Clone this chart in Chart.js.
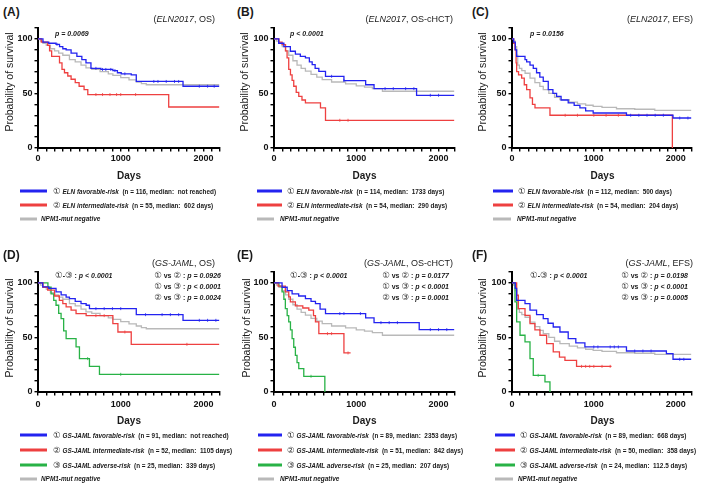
<!DOCTYPE html>
<html>
<head>
<meta charset="utf-8">
<script src="https://cdn.jsdelivr.net/npm/chart.js@4.4.1/dist/chart.umd.min.js"></script>
<style>
  body { margin: 0; background: #fff; width: 709px; height: 490px; position: relative; overflow: hidden;
         font-family: "Liberation Sans", Arial, sans-serif; color: #1a1a1a; }
  canvas { position: absolute; }
  .t { position: absolute; white-space: nowrap; line-height: 1; transform: translateY(-50%); }
  .lab { font-weight: bold; font-size: 12px; }
  .ttl { font-size: 9px; }
  .pv { font-weight: bold; font-size: 7px; }
  .pv i { font-style: italic; }
  .leg { font-weight: bold; font-size: 6.4px; }
  .c { font-weight: normal; font-style: normal; font-family: "DejaVu Sans", sans-serif; font-size: 8.5px; color: #333; }
  .sw { position: absolute; height: 3px; transform: translateY(-50%); }
  .ytl { position: absolute; font-size: 10.5px; white-space: nowrap; transform: translate(-50%, -50%) rotate(-90deg); }
  .xtl { position: absolute; font-size: 10px; font-weight: bold; transform: translate(-50%, -50%); }
</style>
</head>
<body>
<canvas id="cA" width="230" height="170" style="left:0px;top:20px"></canvas>
<canvas id="cB" width="230" height="170" style="left:235px;top:20px"></canvas>
<canvas id="cC" width="230" height="170" style="left:470px;top:20px"></canvas>
<canvas id="cD" width="230" height="170" style="left:0px;top:264px"></canvas>
<canvas id="cE" width="230" height="170" style="left:235px;top:264px"></canvas>
<canvas id="cF" width="230" height="170" style="left:470px;top:264px"></canvas>
<script>
"use strict";

// Kaplan-Meier steps: days (t) and survival % (s); censor days (c)
const grayOsT = [0, 30, 60, 100, 150, 200, 250, 300, 380, 450, 520, 580, 650, 750, 850, 905, 1000, 1100, 1188, 1250, 1309, 2190];
const grayOsS = [100, 98, 96, 94, 91, 89, 87, 85, 81, 79, 76, 73.5, 72, 70, 68, 66.5, 64.5, 62.5, 60.5, 59, 58, 58];
const grayHctT = [0, 30, 60, 100, 140, 179, 230, 280, 330, 382, 450, 520, 586, 700, 870, 1000, 1100, 1196, 1318, 2190];
const grayHctS = [100, 98, 96, 93, 89, 85, 80, 76, 73, 70.5, 67.5, 65, 62.7, 60.5, 58.7, 57, 55.8, 54.4, 52, 52];
const grayEfsT = [0, 20, 40, 57, 70, 90, 120, 160, 220, 280, 340, 382, 450, 520, 586, 700, 800, 900, 992, 1100, 1277, 1500, 1745, 2190];
const grayEfsS = [100, 98, 93, 85, 76, 73, 71, 68.5, 64, 60, 56.5, 53.5, 50, 46.5, 44.4, 42, 40.5, 39.2, 38.2, 37.2, 36, 35.5, 34.5, 34.5];

const aFavT = [0, 60, 130, 218, 260, 300, 340, 400, 470, 530, 580, 640, 760, 905, 960, 1006, 1127, 1188, 1753, 2190];
const aFavS = [100, 97, 96, 95, 93, 91, 90, 87, 84, 81, 78, 73, 72, 71, 69, 68, 67, 61, 56.6, 56.6];
const aFavC = [230, 700, 780, 820, 880, 930, 1050, 1400, 1450, 1550, 1650, 1700, 1950, 2050, 2130];
const aIntT = [0, 40, 117, 140, 165, 260, 290, 320, 360, 400, 450, 497, 557, 602, 1580, 2190];
const aIntS = [100, 97, 94, 89, 84, 78, 72, 69, 66, 63, 60, 56.6, 53.5, 49, 37.6, 37.6];
const aIntC = [700, 780, 870, 950, 1000, 1180];

const bFavT = [0, 57, 120, 199, 260, 320, 382, 430, 464, 500, 545, 626, 850, 1114, 1216, 1733, 2190];
const bFavS = [100, 96, 93, 88.7, 86, 84, 82.6, 79, 76.4, 73, 70.3, 65.7, 61.8, 58, 54.4, 48.3, 48.3];
const bFavC = [700, 850, 1350, 1450, 1600, 1700, 1900, 2000];
const bIntT = [0, 60, 98, 140, 159, 179, 200, 220, 240, 270, 301, 340, 382, 565, 626, 2190];
const bIntS = [100, 97, 94.8, 89, 82.6, 72, 67, 62, 56.6, 51, 47.4, 44, 41.3, 36.7, 25.4, 25.4];
const bIntC = [800, 900];

const cFavT = [0, 20, 40, 57, 159, 179, 220, 260, 300, 340, 382, 443, 500, 545, 600, 687, 760, 830, 900, 992, 1399, 1968, 2190];
const cFavS = [100, 97, 90, 84, 81, 79, 76, 73, 69, 65, 61, 53.5, 50, 47.4, 44, 41.3, 39, 36.7, 34, 32.1, 30, 27.5, 27.5];
const cFavC = [1450, 1550, 1650, 1750, 1850, 2050, 2150];
const cIntT = [0, 20, 37, 50, 57, 80, 118, 150, 179, 220, 250, 281, 464, 1960, 1960];
const cIntS = [100, 96, 90, 78, 70, 67, 64, 58, 53.5, 45.9, 40, 36.7, 30, 30, 0];
const cIntC = [650, 800, 1000, 1150, 1300];

const dFavT = [0, 57, 130, 218, 280, 340, 380, 450, 520, 582, 622, 1188, 1753, 2190];
const dFavS = [100, 96.3, 95, 91.7, 89, 87, 85.6, 83, 81, 79.5, 76.4, 70.9, 65.7, 65.7];
const dFavC = [700, 800, 900, 1000, 1300, 1500, 1600, 1700, 1950, 2050, 2150];
const dIntT = [0, 60, 117, 200, 258, 300, 340, 400, 460, 582, 905, 966, 1127, 2190];
const dIntS = [100, 96, 93.3, 88, 84, 81, 78, 75, 71.9, 70, 62.7, 55, 43.7, 43.7];
const dIntC = [700, 800, 1050, 1800];
const dAdvT = [0, 120, 158, 190, 218, 250, 279, 310, 340, 460, 501, 622, 743, 2190];
const dAdvS = [100, 96, 90, 84, 79.5, 72, 67.3, 56, 48.9, 41.3, 30.6, 23.5, 16.2, 16.2];
const dAdvC = [600, 1000];

const eFavT = [0, 98, 160, 220, 300, 382, 450, 504, 560, 626, 1114, 1216, 1765, 2190];
const eFavS = [100, 96, 93, 90, 88, 85.6, 83, 81, 76, 71.9, 67.9, 63.6, 57.2, 57.2];
const eFavC = [800, 850, 1050, 1300, 1400, 1500, 1900, 2000, 2100];
const eIntT = [0, 50, 138, 179, 199, 260, 350, 423, 480, 504, 545, 850, 931];
const eIntS = [100, 97, 91.7, 87.2, 82.6, 79, 77, 75, 70, 64.2, 53.5, 35.8, 35.8];
const eIntC = [650, 700, 900];
const eAdvT = [0, 60, 98, 120, 138, 160, 179, 200, 220, 240, 260, 280, 301, 362, 618];
const eAdvS = [100, 97, 91.7, 85, 76.4, 70, 64.2, 57, 48.9, 41, 33.6, 27, 21.4, 14.4, 0];
const eAdvC = [450];

const fFavT = [0, 40, 57, 159, 220, 300, 382, 440, 504, 586, 687, 780, 891, 1399, 1887, 1968, 2190];
const fFavS = [100, 95, 84, 81, 75, 71, 67.3, 63, 59.6, 55, 48.9, 45, 41.3, 37.6, 35.2, 30, 30];
const fFavC = [1000, 1050, 1200, 1250, 1300, 1500, 1600, 1700, 2050, 2100];
const fIntT = [0, 57, 77, 159, 220, 280, 342, 423, 504, 580, 647, 789, 1216];
const fIntS = [100, 88.7, 76.4, 70.3, 62.7, 57, 52, 44.3, 36.7, 32, 29, 23.5, 23.5];
const fIntC = [850, 900, 950, 1000, 1100, 1200];
const fAdvT = [0, 37, 57, 98, 159, 220, 260, 403, 464];
const fAdvS = [100, 82.6, 64.2, 52, 45.9, 30.6, 15.3, 9.2, 0];
const fAdvC = [320];

const BLUE = "rgb(35,35,240)";
const RED = "rgb(238,64,64)";
const GREEN = "rgb(40,178,70)";
const GRAY = "rgb(185,185,185)";

function curve(t, s, color) {
  return {
    data: t.map((d, i) => ({ x: d, y: s[i] })),
    borderColor: color, borderWidth: 1.3, pointRadius: 0, stepped: true, fill: false,
  };
}

function kmAt(t, s, day) {
  let v = s[0];
  for (let i = 0; i < t.length; i++) if (t[i] <= day) v = s[i];
  return v;
}

function censor(t, s, c, color) {
  return {
    data: c.map((d) => ({ x: d, y: kmAt(t, s, d) })),
    showLine: false, borderColor: color, pointStyle: "line", pointRotation: 90,
    pointRadius: 1.5, pointBorderWidth: 0.8, pointBorderColor: color,
  };
}

function makeChart(id, yWidth, padR, tickPad, datasets) {
  new Chart(document.getElementById(id), {
    type: "line",
    data: { datasets: datasets },
    options: {
      responsive: false,
      animation: false,
      layout: { padding: { left: 0, right: padR, top: 8, bottom: 0 } },
      plugins: { legend: { display: false }, tooltip: { enabled: false } },
      scales: {
        x: {
          type: "linear", min: 0, max: 2200,
          afterFit: (sc) => { sc.height = 42; },
          grid: { drawOnChartArea: false, tickLength: 3.5, color: "#000", lineWidth: 1.4 },
          border: { color: "#000", width: 2 },
          ticks: {
            stepSize: 100, autoSkip: false, maxRotation: 0, padding: tickPad, color: "#111",
            font: { size: 9, weight: "bold" },
            callback: (v) => (v % 1000 === 0 ? v : ""),
          },
        },
        y: {
          min: 0, max: 110,
          afterFit: (sc) => { sc.width = yWidth; },
          grid: { drawOnChartArea: false, tickLength: 3.5, color: "#000", lineWidth: 1.4 },
          border: { color: "#000", width: 2 },
          ticks: {
            stepSize: 10, autoSkip: false, padding: 2, color: "#111",
            font: { size: 9, weight: "bold" },
            callback: (v) => (v % 50 === 0 && v <= 100 ? v : ""),
          },
        },
      },
    },
  });
}

Chart.defaults.font.family = '"Liberation Sans", Arial, sans-serif';

makeChart("cA", 38, 10, 2, [
  curve(aFavT, aFavS, BLUE), censor(aFavT, aFavS, aFavC, BLUE),
  curve(aIntT, aIntS, RED), censor(aIntT, aIntS, aIntC, RED),
  curve(grayOsT, grayOsS, GRAY),
]);
makeChart("cB", 39, 10, 2, [
  curve(bFavT, bFavS, BLUE), censor(bFavT, bFavS, bFavC, BLUE),
  curve(bIntT, bIntS, RED), censor(bIntT, bIntS, bIntC, RED),
  curve(grayHctT, grayHctS, GRAY),
]);
makeChart("cC", 42, 8, 2, [
  curve(cFavT, cFavS, BLUE), censor(cFavT, cFavS, cFavC, BLUE),
  curve(cIntT, cIntS, RED), censor(cIntT, cIntS, cIntC, RED),
  curve(grayEfsT, grayEfsS, GRAY),
]);
makeChart("cD", 38, 10, 4, [
  curve(dFavT, dFavS, BLUE), censor(dFavT, dFavS, dFavC, BLUE),
  curve(dIntT, dIntS, RED), censor(dIntT, dIntS, dIntC, RED),
  curve(dAdvT, dAdvS, GREEN), censor(dAdvT, dAdvS, dAdvC, GREEN),
  curve(grayOsT, grayOsS, GRAY),
]);
makeChart("cE", 39, 10, 4, [
  curve(eFavT, eFavS, BLUE), censor(eFavT, eFavS, eFavC, BLUE),
  curve(eIntT, eIntS, RED), censor(eIntT, eIntS, eIntC, RED),
  curve(eAdvT, eAdvS, GREEN), censor(eAdvT, eAdvS, eAdvC, GREEN),
  curve(grayHctT, grayHctS, GRAY),
]);
makeChart("cF", 42, 8, 4, [
  curve(fFavT, fFavS, BLUE), censor(fFavT, fFavS, fFavC, BLUE),
  curve(fIntT, fIntS, RED), censor(fIntT, fIntS, fIntC, RED),
  curve(fAdvT, fAdvS, GREEN), censor(fAdvT, fAdvS, fAdvC, GREEN),
  curve(grayEfsT, grayEfsS, GRAY),
]);

// ---- text: panel letters, titles, p values, axis titles, legends ----
function txt(cls, html, x, y, alignRight) {
  const d = document.createElement("div");
  d.className = "t " + cls;
  d.innerHTML = html;
  if (alignRight) d.style.right = (709 - x) + "px"; else d.style.left = x + "px";
  d.style.top = y + "px";
  document.body.appendChild(d);
}
function swatch(color, x1, x2, y) {
  const d = document.createElement("div");
  d.className = "sw";
  d.style.left = x1 + "px"; d.style.width = (x2 - x1) + "px"; d.style.top = y + "px";
  d.style.background = color;
  document.body.appendChild(d);
}
function axisTitles(yx, yy, xx, xy) {
  const a = document.createElement("div");
  a.className = "ytl"; a.textContent = "Probability of survival";
  a.style.left = yx + "px"; a.style.top = yy + "px";
  document.body.appendChild(a);
  const b = document.createElement("div");
  b.className = "xtl"; b.textContent = "Days";
  b.style.left = xx + "px"; b.style.top = xy + "px";
  document.body.appendChild(b);
}

const c1 = '<span class="c">①</span>', c2 = '<span class="c">②</span>', c3 = '<span class="c">③</span>';
const npm = "<i>NPM1-mut negative</i>";

// top row
txt("lab", "(A)", 3, 12); txt("lab", "(B)", 237, 12); txt("lab", "(C)", 472, 12);
txt("ttl", "(<i>ELN2017</i>, OS)", 215, 19, true);
txt("ttl", "(<i>ELN2017</i>, OS-cHCT)", 453, 19, true);
txt("ttl", "(<i>ELN2017</i>, EFS)", 693, 19, true);
txt("pv", "<i>p = 0.0069</i>", 55, 33);
txt("pv", "<i>p &lt; 0.0001</i>", 290, 33);
txt("pv", "<i>p = 0.0156</i>", 530, 33);
axisTitles(8.5, 81.5, 129, 175);
axisTitles(244, 81.5, 364.5, 175);
axisTitles(481.5, 81.5, 602.5, 175);

const topLeg = [
  [20, 47, 37, 53, 41, [
    c1 + " <i>ELN favorable-risk</i>&nbsp; (n = 116, median:&nbsp; not reached)",
    c2 + " <i>ELN intermediate-risk</i>&nbsp; (n = 55, median:&nbsp; 602 days)"]],
  [257, 282, 274, 287, 280, [
    c1 + " <i>ELN favorable-risk</i>&nbsp; (n = 114, median:&nbsp; 1733 days)",
    c2 + " <i>ELN intermediate-risk</i>&nbsp; (n = 54, median:&nbsp; 290 days)"]],
  [493, 513, 511, 518, 517, [
    c1 + " <i>ELN favorable-risk</i>&nbsp; (n = 112, median:&nbsp; 500 days)",
    c2 + " <i>ELN intermediate-risk</i>&nbsp; (n = 54, median:&nbsp; 204 days)"]],
];
topLeg.forEach(([x1, x2, gx2, tx, gtx, rows]) => {
  swatch(BLUE, x1, x2, 191); txt("leg", rows[0], tx, 191);
  swatch(RED, x1, x2, 205); txt("leg", rows[1], tx, 205);
  swatch(GRAY, x1, gx2, 219); txt("leg", npm, gtx, 219);
});

// bottom row
txt("lab", "(D)", 3, 255); txt("lab", "(E)", 237, 255); txt("lab", "(F)", 472, 255);
txt("ttl", "(<i>GS-JAML</i>, OS)", 215, 263, true);
txt("ttl", "(<i>GS-JAML</i>, OS-cHCT)", 453, 263, true);
txt("ttl", "(<i>GS-JAML</i>, EFS)", 693, 263, true);
const all = c1 + "-" + c3 + " : <i>p &lt; 0.0001</i>";
txt("pv", all, 55, 275); txt("pv", all, 290, 275); txt("pv", all, 530, 275);
const pairs = [
  [221, ["0.0926", "&lt; 0.0001", "0.0024"]],
  [449, ["0.0177", "&lt; 0.0001", "0.0001"]],
  [688, ["0.0198", "&lt; 0.0001", "0.0005"]],
];
pairs.forEach(([xr, pv]) => {
  const fmt = (v) => (v.startsWith("&lt;") ? "<i>p " + v + "</i>" : "<i>p = " + v + "</i>");
  txt("pv", c1 + " vs " + c2 + " : " + fmt(pv[0]), xr, 275, true);
  txt("pv", c1 + " vs " + c3 + " : " + fmt(pv[1]), xr, 286, true);
  txt("pv", c2 + " vs " + c3 + " : " + fmt(pv[2]), xr, 297, true);
});
axisTitles(8.5, 327.5, 129, 420);
axisTitles(245.5, 327.5, 364.5, 420);
axisTitles(482, 327.5, 602.5, 420);

const botLeg = [
  [20, 47, 37, 53, 41, [
    c1 + " <i>GS-JAML favorable-risk</i>&nbsp; (n = 91, median:&nbsp; not reached)",
    c2 + " <i>GS-JAML intermediate-risk</i>&nbsp; (n = 52, median:&nbsp; 1105 days)",
    c3 + " <i>GS-JAML adverse-risk</i>&nbsp; (n = 25, median:&nbsp; 339 days)"]],
  [258, 282, 274, 287, 280, [
    c1 + " <i>GS-JAML favorable-risk</i>&nbsp; (n = 89, median:&nbsp; 2353 days)",
    c2 + " <i>GS-JAML intermediate-risk</i>&nbsp; (n = 51, median:&nbsp; 842 days)",
    c3 + " <i>GS-JAML adverse-risk</i>&nbsp; (n = 25, median:&nbsp; 207 days)"]],
  [495, 515, 513, 520, 518, [
    c1 + " <i>GS-JAML favorable-risk</i>&nbsp; (n = 89, median:&nbsp; 668 days)",
    c2 + " <i>GS-JAML intermediate-risk</i>&nbsp; (n = 50, median:&nbsp; 358 days)",
    c3 + " <i>GS-JAML adverse-risk</i>&nbsp; (n = 24, median:&nbsp; 112.5 days)"]],
];
botLeg.forEach(([x1, x2, gx2, tx, gtx, rows]) => {
  swatch(BLUE, x1, x2, 435); txt("leg", rows[0], tx, 435);
  swatch(RED, x1, x2, 450); txt("leg", rows[1], tx, 450);
  swatch(GREEN, x1, x2, 465); txt("leg", rows[2], tx, 465);
  swatch(GRAY, x1, gx2, 479); txt("leg", npm, gtx, 479);
});
</script>
</body>
</html>
